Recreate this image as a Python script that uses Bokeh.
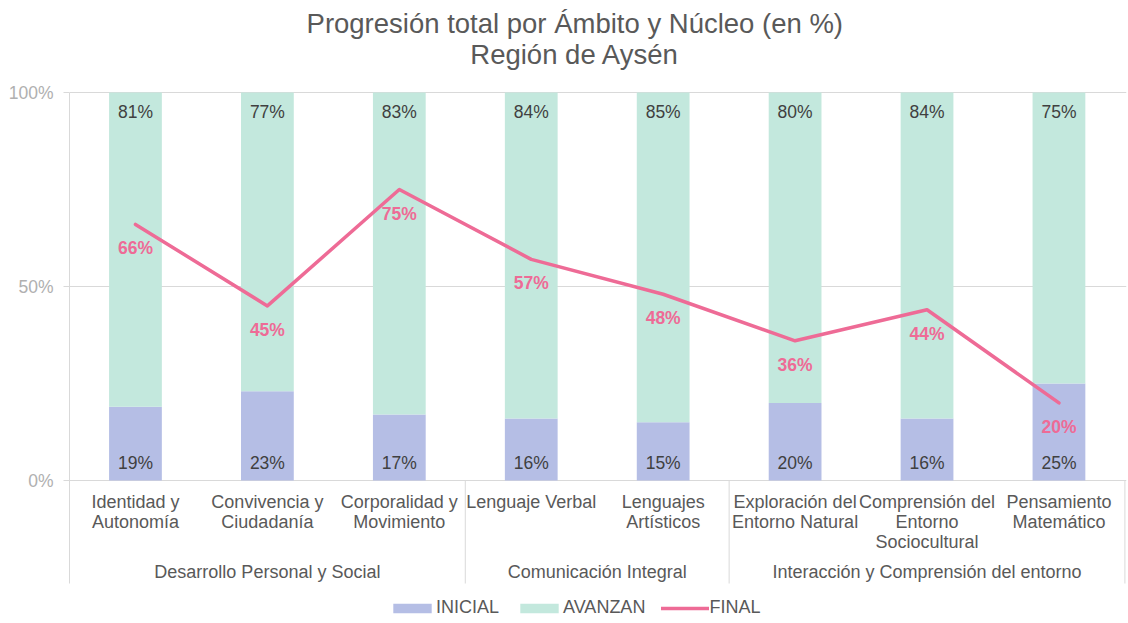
from bokeh.plotting import figure
from bokeh.models import ColumnDataSource, Range1d, FixedTicker, Legend, LegendItem
from bokeh.core.properties import value
from bokeh.embed import file_html
from bokeh.resources import INLINE
import numpy as np

# ---------------- data ----------------
title_lines = ["Progresión total por Ámbito y Núcleo (en %)", "Región de Aysén"]
categories = [
    "Identidad y\nAutonomía",
    "Convivencia y\nCiudadanía",
    "Corporalidad y\nMovimiento",
    "Lenguaje Verbal",
    "Lenguajes\nArtísticos",
    "Exploración del\nEntorno Natural",
    "Comprensión del\nEntorno\nSociocultural",
    "Pensamiento\nMatemático",
]
groups = ["Desarrollo Personal y Social", "Comunicación Integral",
          "Interacción y Comprensión del entorno"]
group_sizes = [3, 2, 3]
inicial = [19, 23, 17, 16, 15, 20, 16, 25]
avanzan = [81, 77, 83, 84, 85, 80, 84, 75]
final = [66, 45, 75, 57, 48, 36, 44, 20]
series_names = ["INICIAL", "AVANZAN", "FINAL"]
y_ticks = [0, 50, 100]
y_tick_labels = ["0%", "50%", "100%"]

# ---------------- style ----------------
FONT = "Liberation Sans"
C_INI = "#B5BEE5"
C_AVA = "#C3E8DD"
C_FIN = "#EE6B96"
C_GRID = "#D9D9D9"
C_TXT = "#595959"
C_VAL = "#404040"
PX = 3.88  # pixels per percentage point
ZERO_Y = 480  # pixel row of the 0% line
H = 623

p = figure(width=1128, height=H, output_backend="svg", toolbar_location=None,
           x_range=Range1d(0, 8.012),
           y_range=Range1d(-(H - ZERO_Y) / PX, ZERO_Y / PX),
           min_border_left=69, min_border_right=2, min_border_top=0, min_border_bottom=0,
           x_axis_location=None)
p.outline_line_color = None
p.background_fill_color = "white"

# y axis
p.yaxis.ticker = FixedTicker(ticks=y_ticks)
p.yaxis.major_label_overrides = {t: l for t, l in zip(y_ticks, y_tick_labels)}
p.yaxis.bounds = (-103 / PX, 100)
p.yaxis.axis_line_color = C_GRID
p.yaxis.major_tick_line_color = C_GRID
p.yaxis.major_tick_out = 6
p.yaxis.major_tick_in = 0
p.yaxis.minor_tick_line_color = None
p.yaxis.major_label_standoff = 10
p.yaxis.major_label_text_font = FONT
p.yaxis.major_label_text_font_size = "17.5px"
p.yaxis.major_label_text_color = "#B0B0B0"
p.ygrid.ticker = FixedTicker(ticks=y_ticks)
p.ygrid.grid_line_color = C_GRID
p.xgrid.visible = False

xs = np.arange(len(categories)) + 0.5
src = ColumnDataSource(dict(
    x=xs, INICIAL=inicial, AVANZAN=avanzan, FINAL=final,
    ini_lbl=[f"{v}%" for v in inicial],
    ava_lbl=[f"{v}%" for v in avanzan],
    fin_lbl=[f"{v}%" for v in final],
))

bars = p.vbar_stack(["INICIAL", "AVANZAN"], x="x", width=0.4, color=[C_INI, C_AVA],
                    line_color=None, source=src)
line = p.line(x="x", y="FINAL", source=src, line_color=C_FIN, line_width=3.5,
              line_join="round", line_cap="round")

# value labels
p.text(x="x", y=0, text="ini_lbl", source=src, text_align="center", text_baseline="middle",
       y_offset=-18, text_font=value(FONT), text_font_size="17.5px", text_color=C_VAL)
p.text(x="x", y=100, text="ava_lbl", source=src, text_align="center", text_baseline="middle",
       y_offset=19, text_font=value(FONT), text_font_size="17.5px", text_color=C_VAL)
p.text(x="x", y="FINAL", text="fin_lbl", source=src, text_align="center", text_baseline="middle",
       y_offset=24, text_font=value(FONT), text_font_size="17.5px", text_color=C_FIN,
       text_font_style="bold")

# category labels (multi-line)
cx, cy_off, ct = [], [], []
for i, c in enumerate(categories):
    for j, ln in enumerate(c.split("\n")):
        cx.append(xs[i]); ct.append(ln); cy_off.append(21 + 20 * j)
p.text(x=cx, y=[0] * len(cx), text=ct, y_offset=cy_off, text_align="center",
       text_baseline="middle", text_font=value(FONT), text_font_size="18px", text_color=C_TXT)

# group labels and separators
bounds = np.concatenate([[0], np.cumsum(group_sizes)])
gx = (bounds[:-1] + bounds[1:]) / 2
p.text(x=list(gx), y=[0] * len(gx), text=groups, y_offset=91, text_align="center",
       text_baseline="middle", text_font=value(FONT), text_font_size="18px", text_color=C_TXT)
p.segment(x0=list(bounds[1:]), y0=[0] * (len(bounds) - 1), x1=list(bounds[1:]),
          y1=[-103 / PX] * (len(bounds) - 1), line_color=C_GRID, line_width=1)

# title
p.text(x=[3.83, 3.83], y=[100, 100], text=title_lines, y_offset=[-69.5, -38],
       text_align="center", text_baseline="middle", text_font=value(FONT),
       text_font_size="27.5px", text_color=C_TXT)

legend = Legend(items=[LegendItem(label=series_names[0], renderers=[bars[0]]),
                       LegendItem(label=series_names[1], renderers=[bars[1]]),
                       LegendItem(label=series_names[2], renderers=[line])],
                location=(319, 5), orientation="horizontal", glyph_width=48, glyph_height=12,
                label_standoff=0, spacing=16, padding=0, margin=0,
                border_line_color=None, background_fill_alpha=0,
                label_text_font=FONT, label_text_font_size="18px", label_text_color=C_TXT)
p.add_layout(legend)

open("out.html", "w").write(file_html(p, INLINE))
